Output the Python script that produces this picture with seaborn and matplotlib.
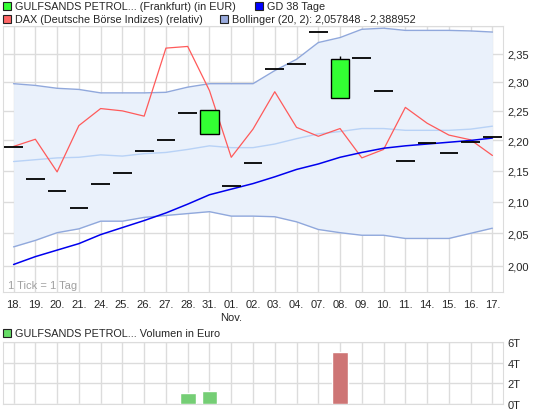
import numpy as np
import pandas as pd
import matplotlib
matplotlib.use('Agg')
import matplotlib.pyplot as plt
from matplotlib.patches import Rectangle
import seaborn as sns

# trading days (Oct/Nov)
dates = ['18.', '19.', '20.', '21.', '24.', '25.', '26.', '27.', '28.', '31.', '01.', '02.',
         '03.', '04.', '07.', '08.', '09.', '10.', '11.', '14.', '15.', '16.', '17.']

# price (open / close / high), EUR
price_open = [2.189, 2.136, 2.117, 2.090, 2.128, 2.146, 2.182, 2.200, 2.246, 2.210, 2.125, 2.162,
              2.323, 2.331, 2.389, 2.272, 2.343, 2.284, 2.166, 2.195, 2.179, 2.197, 2.205]
price_close = [2.189, 2.136, 2.117, 2.090, 2.128, 2.146, 2.182, 2.200, 2.246, 2.251, 2.125, 2.162,
               2.323, 2.331, 2.389, 2.341, 2.343, 2.284, 2.166, 2.195, 2.179, 2.197, 2.205]
price_high = [2.189, 2.136, 2.117, 2.090, 2.128, 2.146, 2.182, 2.200, 2.246, 2.251, 2.125, 2.162,
              2.323, 2.331, 2.389, 2.345, 2.343, 2.284, 2.166, 2.195, 2.179, 2.197, 2.205]

# DAX relative
dax = [2.190, 2.202, 2.148, 2.225, 2.254, 2.250, 2.241, 2.360, 2.363, 2.285, 2.172, 2.219,
       2.283, 2.222, 2.207, 2.220, 2.171, 2.185, 2.256, 2.229, 2.209, 2.201, 2.175]

# GD 38 Tage
gd38 = [2.002, 2.014, 2.024, 2.034, 2.048, 2.059, 2.070, 2.082, 2.096, 2.111, 2.120, 2.129,
        2.140, 2.152, 2.161, 2.172, 2.180, 2.187, 2.191, 2.194, 2.197, 2.200, 2.204]

# Bollinger (20, 2)
boll_upper = [2.297, 2.294, 2.289, 2.287, 2.281, 2.281, 2.281, 2.282, 2.291, 2.297, 2.297, 2.297,
              2.320, 2.340, 2.370, 2.379, 2.394, 2.396, 2.392, 2.392, 2.392, 2.391, 2.389]
boll_mid = [2.165, 2.168, 2.171, 2.172, 2.176, 2.174, 2.178, 2.180, 2.185, 2.191, 2.188, 2.188,
            2.194, 2.203, 2.211, 2.215, 2.220, 2.220, 2.217, 2.217, 2.217, 2.219, 2.224]
boll_lower = [2.029, 2.039, 2.051, 2.057, 2.069, 2.069, 2.075, 2.078, 2.081, 2.084, 2.077, 2.077,
              2.076, 2.068, 2.056, 2.051, 2.047, 2.047, 2.042, 2.042, 2.042, 2.050, 2.058]

# volume in EUR
volume = [0, 0, 0, 0, 0, 0, 0, 0, 1090, 1220, 0, 0, 0, 0, 0, 5060, 0, 0, 0, 0, 0, 0, 0]
vol_dir = ['up'] * 15 + ['down'] + ['up'] * 7

yticks = [2.00, 2.05, 2.10, 2.15, 2.20, 2.25, 2.30, 2.35]
vticks = [0, 2000, 4000, 6000]
vtick_labels = ['0T', '2T', '4T', '6T']

sns.set_style('white')
plt.rcParams['font.family'] = ['Liberation Sans', 'DejaVu Sans']
plt.rcParams['font.size'] = 8

grid_col = '#dcdcdc'
idx = np.arange(len(dates))

fig = plt.figure(figsize=(5.45, 4.10), dpi=100)
ax = fig.add_axes([2.7 / 545, 1 - 292.7 / 410, 500.6 / 545, 265.7 / 410])
axv = fig.add_axes([2.7 / 545, 1 - 405 / 410, 500.6 / 545, 62 / 410])

# main panel
ax.set_yscale('log')
ax.fill_between(idx, boll_lower, boll_upper, color='#eaf1fb', lw=0, zorder=1)
sns.lineplot(x=idx, y=boll_upper, ax=ax, color='#90a8dc', lw=1, zorder=2)
sns.lineplot(x=idx, y=boll_lower, ax=ax, color='#90a8dc', lw=1, zorder=2)
sns.lineplot(x=idx, y=boll_mid, ax=ax, color='#b8d2f6', lw=1, zorder=2)
sns.lineplot(x=idx, y=dax, ax=ax, color='#ff5a5a', lw=0.9, zorder=3)
sns.lineplot(x=idx, y=gd38, ax=ax, color='#0000ee', lw=1.1, zorder=3)

po = np.array(price_open)
pc = np.array(price_close)
ph = np.array(price_high)
doji = po == pc
ax.hlines(po[doji], idx[doji] - 0.43, idx[doji] + 0.43, color='black', lw=1.3, zorder=4)
body = ~doji
ax.vlines(idx[body], pc[body], ph[body], color='black', lw=1, zorder=4)
ax.bar(idx[body], pc[body] - po[body], bottom=po[body], width=0.83,
       color='#33ff33', edgecolor='black', lw=1, zorder=5)

ax.set_xlim(-0.5, 22.5)
ax.set_ylim(1.961, 2.40)
ax.set_yticks(yticks + [2.40])
ax.set_yticklabels([f'{t:.2f}'.replace('.', ',') for t in yticks] + [''])
ax.yaxis.set_minor_locator(matplotlib.ticker.NullLocator())
ax.yaxis.tick_right()
ax.set_xticks(idx)
ax.set_xticklabels(dates)
ax.tick_params(axis='both', length=3, color=grid_col, pad=2, labelsize=8)
ax.tick_params(axis='y', length=0, pad=3)
ax.grid(True, color=grid_col, lw=1)
ax.set_axisbelow(True)
for s in ax.spines.values():
    s.set_color(grid_col)
ax.set_xlabel('')
ax.set_ylabel('')
ax.text(idx[10], -0.096, 'Nov.', transform=ax.get_xaxis_transform(), ha='center', va='center', fontsize=8)
ax.text(0.011, 0.025, '1 Tick = 1 Tag', transform=ax.transAxes, color='#a0a0a0', fontsize=8, va='center')

# volume panel
vol_df = pd.DataFrame({'day': idx, 'volume': volume, 'dir': vol_dir})
sns.barplot(data=vol_df, x='day', y='volume', hue='dir', palette={'up': '#66dd66', 'down': '#dd6666'},
            dodge=False, width=0.73, ax=axv, legend=False, zorder=3)
axv.set_xlim(-0.5, 22.5)
axv.set_ylim(0, 6000)
axv.set_xticks(idx)
axv.set_xticklabels([])
axv.set_yticks(vticks)
axv.set_yticklabels(vtick_labels)
axv.yaxis.tick_right()
axv.tick_params(axis='both', length=0, pad=3, labelsize=8)
axv.grid(True, color=grid_col, lw=1)
axv.set_axisbelow(True)
for s in axv.spines.values():
    s.set_color(grid_col)
axv.set_xlabel('')
axv.set_ylabel('')

# legends
def legend_item(x, y, color, edge, label):
    fig.patches.append(Rectangle((x / 545, 1 - (y + 4) / 410), 8 / 545, 8 / 410, transform=fig.transFigure,
                                 facecolor=color, edgecolor=edge, lw=0.8))
    fig.text((x + 12) / 545, 1 - y / 410, label, va='center', ha='left', fontsize=7.8)

legend_item(3, 7, '#33ff33', '#222222', 'GULFSANDS PETROL... (Frankfurt) (in EUR)')
legend_item(255, 7, '#0000ff', '#222222', 'GD 38 Tage')
legend_item(3, 20, '#ff6666', '#222222', 'DAX (Deutsche Börse Indizes) (relativ)')
legend_item(220, 20, '#99aadd', '#222222', 'Bollinger (20, 2): 2,057848 - 2,388952')
legend_item(3, 334, '#66dd66', '#222222', 'GULFSANDS PETROL... Volumen in Euro')

plt.savefig('out.png', dpi=100)
plt.close()
